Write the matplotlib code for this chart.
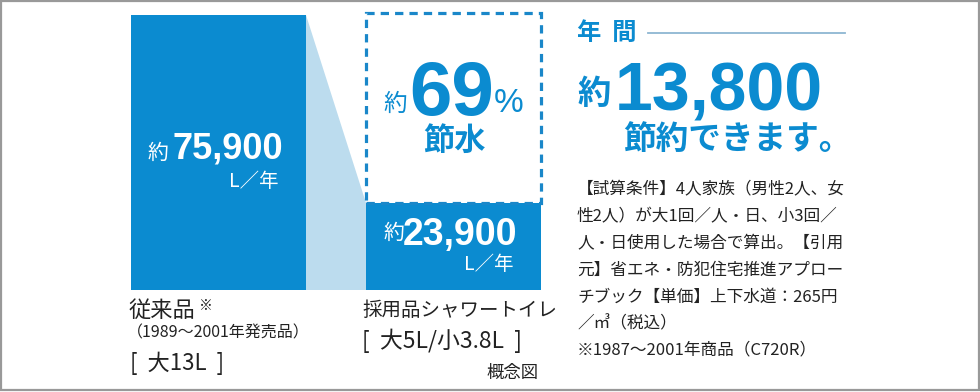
import matplotlib
matplotlib.use("Agg")
import matplotlib.pyplot as plt
from matplotlib.patches import Rectangle, Polygon

plt.rcParams['font.family'] = ['Noto Sans CJK JP', 'DejaVu Sans']

# ---- data ----
categories = ["従来品", "採用品シャワートイレ"]
usage_l_per_year = [75900, 23900]
flush_specs = ["大13L", "大5L/小3.8L"]
saving_pct = 69
saving_yen = 13800
notes = [
    "【試算条件】4人家族（男性2人、女",
    "性2人）が大1回／人・日、小3回／",
    "人・日使用した場合で算出。【引用",
    "元】省エネ・防犯住宅推進アプロー",
    "チブック【単価】上下水道：265円",
    "／㎥（税込）",
    "※1987～2001年商品（C720R）",
]

BLUE = "#0b8bd0"
LIGHT = "#bcdcee"
TXT = "#222222"
NUM = ['Liberation Sans', 'DejaVu Sans']

W, H = 980, 392
fig = plt.figure(figsize=(W / 100, H / 100), dpi=100)
fig.patch.set_facecolor("white")

# ---- bar axes (pixel 131..541 horizontally, 15..290 vertically) ----
bw = 0.746
axb = fig.add_axes([131 / W, (H - 290) / H, (541 - 131) / W, 275 / H])
axb.set_xlim(-bw / 2, 1 + bw / 2)
axb.set_ylim(0, usage_l_per_year[0])
axb.axis("off")
x = [0, 1]
axb.bar(x, usage_l_per_year, width=bw, color=BLUE, zorder=3)
# connecting light area
poly = Polygon([(x[0] + bw / 2, usage_l_per_year[0]), (x[0] + bw / 2, 0),
                (x[1] - bw / 2, 0), (x[1] - bw / 2, usage_l_per_year[1])],
               closed=True, facecolor=LIGHT, edgecolor="none", zorder=1)
axb.add_patch(poly)
# dashed savings box
box = Rectangle((x[1] - bw / 2, usage_l_per_year[1]), bw,
                usage_l_per_year[0] - usage_l_per_year[1] + 600,
                fill=False, edgecolor="#1a87c9", linewidth=2.3,
                linestyle=(0, (2.6, 1.9)), zorder=4, clip_on=False)
axb.add_patch(box)

# ---- overlay axes in pixel coordinates for text ----
ax = fig.add_axes([0, 0, 1, 1])
ax.set_xlim(0, W)
ax.set_ylim(H, 0)
ax.axis("off")
ax.patch.set_alpha(0)

# border
ax.add_patch(Rectangle((1, 1), W - 2.5, H - 3, fill=False, edgecolor="#999999", linewidth=1.6))

# bar 1 labels
ax.text(168, 153, "約", color="white", fontsize=15, ha="right", va="center")
ax.text(172, 158, f"{usage_l_per_year[0]:,}", color="white", fontsize=26,
        fontweight="bold", family=NUM, ha="left", va="baseline")
ax.text(279, 181, "L／年", color="white", fontsize=14, ha="right", va="center")

# bar 2 labels
ax.text(404, 233, "約", color="white", fontsize=15, ha="right", va="center")
ax.text(403, 245, f"{usage_l_per_year[1]:,}", color="white", fontsize=27,
        fontweight="bold", family=NUM, ha="left", va="baseline")
ax.text(514, 265, "L／年", color="white", fontsize=14, ha="right", va="center")

# savings text in dashed box
ax.text(407, 104, "約", color=BLUE, fontsize=17, ha="right", va="center")
ax.text(452, 115, f"{saving_pct}", color=BLUE, fontsize=55, fontweight="bold",
        family=NUM, ha="center", va="baseline")
ax.text(494, 112, "%", color=BLUE, fontsize=24, family=NUM, ha="left", va="baseline")
ax.text(454, 141, "節水", color=BLUE, fontsize=22.5, fontweight="bold", ha="center", va="center")

# category labels
ax.text(129, 310, categories[0], color=TXT, fontsize=16, ha="left", va="center")
ax.text(199, 306, "※", color=TXT, fontsize=10, ha="left", va="center")
ax.text(127, 333, "（1989～2001年発売品）", color=TXT, fontsize=11.5, ha="left", va="center")
ax.text(130, 363, f"[  {flush_specs[0]}  ]", color=TXT, fontsize=16, ha="left", va="center")

ax.text(362, 310, categories[1], color=TXT, fontsize=14, ha="left", va="center")
ax.text(362, 341, f"[  {flush_specs[1]}  ]", color=TXT, fontsize=16.5, ha="left", va="center")
ax.text(539, 373, "概念図", color=TXT, fontsize=12.5, ha="right", va="center")

# right side headline
ax.text(577, 33, "年  間", color=BLUE, fontsize=17.5, fontweight="bold", ha="left", va="center")
ax.plot([648, 845], [33, 33], color="#8eb6d2", linewidth=1.3)
ax.text(611, 94, "約", color=BLUE, fontsize=24, fontweight="bold", ha="right", va="center")
ax.text(615, 110, f"{saving_yen:,}", color=BLUE, fontsize=49, fontweight="bold",
        family=NUM, ha="left", va="baseline")
ax.text(623, 139, "節約できます。", color=BLUE, fontsize=23.5, fontweight="bold",
        ha="left", va="center")

# notes
for i, line in enumerate(notes):
    ax.text(577, 190 + 26.7 * i, line, color=TXT, fontsize=12, ha="left", va="center")

fig.savefig("out.png", dpi=100, facecolor="white")
